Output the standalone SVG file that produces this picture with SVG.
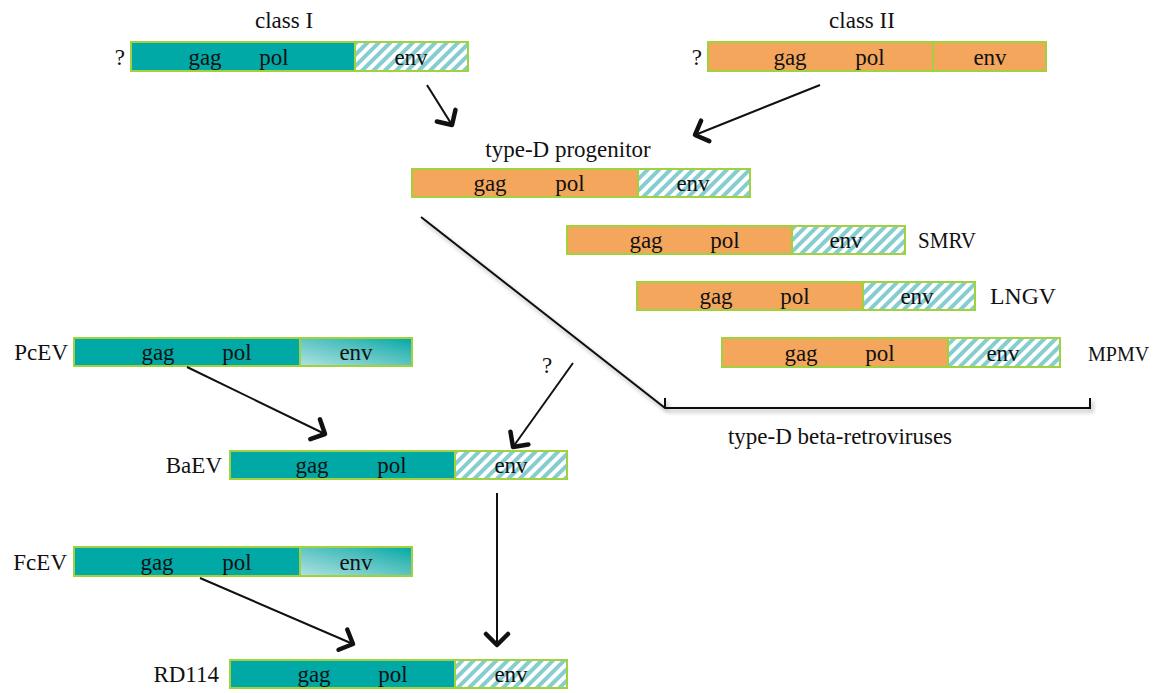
<svg xmlns="http://www.w3.org/2000/svg" width="1153" height="693" viewBox="0 0 1153 693">
<style>
text{font-family:"Liberation Serif","Times New Roman",serif;font-size:23px;fill:#111;}
.m{text-anchor:middle;}
.e{text-anchor:end;}
.bd{stroke:#9fd23c;stroke-width:2;}
.teal{fill:#00a8a6;}
.org{fill:#f3a65c;}
.hat{fill:url(#hatch);}
.grd{fill:url(#grad);}
.ln{stroke:#111;stroke-width:2;fill:none;}
</style>
<defs>
<pattern id="hatch" patternUnits="userSpaceOnUse" width="8" height="8" patternTransform="rotate(45)">
<rect width="8" height="8" fill="#ffffff"/>
<rect width="4" height="8" fill="#86cdd2"/>
</pattern>
<linearGradient id="grad" x1="0" y1="1" x2="1" y2="0">
<stop offset="0" stop-color="#b0e2e2"/>
<stop offset="0.7" stop-color="#3dbab8"/>
<stop offset="1" stop-color="#00a8a6"/>
</linearGradient>
<marker id="ah" markerUnits="userSpaceOnUse" markerWidth="30" markerHeight="30" refX="15" refY="15" orient="auto" viewBox="0 0 30 30">
<path d="M4,4 L15,15 L4,26" fill="none" stroke="#111" stroke-width="4.5" stroke-linejoin="round" stroke-linecap="round"/>
</marker>
<filter id="sh" x="-5%" y="-50%" width="110%" height="300%">
<feGaussianBlur in="SourceAlpha" stdDeviation="2"/>
<feOffset dx="2" dy="3"/>
<feComponentTransfer><feFuncA type="linear" slope="0.35"/></feComponentTransfer>
<feMerge><feMergeNode/><feMergeNode in="SourceGraphic"/></feMerge>
</filter>
</defs>
<rect width="1153" height="693" fill="#ffffff"/>

<g id="classI">
<text class="m" x="284" y="28">class I</text>
<text class="e" x="125" y="65">?</text>
<rect class="teal" x="131" y="42" width="224" height="29"/>
<rect class="hat" x="355" y="42" width="113" height="29"/>
<rect x="131" y="42" width="337" height="29" fill="none" class="bd"/>
<line x1="355" y1="42" x2="355" y2="71" class="bd"/>
<text class="m" x="205" y="65">gag</text>
<text class="m" x="274" y="65">pol</text>
<text class="m" x="411" y="65">env</text>
</g>

<g id="classII">
<text class="m" x="862" y="28">class II</text>
<text class="e" x="702" y="65">?</text>
<rect class="org" x="708" y="42" width="338" height="29"/>
<rect x="708" y="42" width="338" height="29" fill="none" class="bd"/>
<line x1="933" y1="42" x2="933" y2="71" class="bd"/>
<text class="m" x="790" y="65">gag</text>
<text class="m" x="870" y="65">pol</text>
<text class="m" x="990" y="65">env</text>
</g>

<g id="progenitor">
<text class="m" x="568" y="157">type-D progenitor</text>
<rect class="org" x="412" y="169" width="226" height="28"/>
<rect class="hat" x="638" y="169" width="112" height="28"/>
<rect x="412" y="169" width="338" height="28" fill="none" class="bd"/>
<line x1="638" y1="169" x2="638" y2="197" class="bd"/>
<text class="m" x="490" y="191">gag</text>
<text class="m" x="570" y="191">pol</text>
<text class="m" x="693" y="191">env</text>
</g>

<g id="SMRV">
<rect class="org" x="567" y="226" width="225" height="28"/>
<rect class="hat" x="792" y="226" width="113" height="28"/>
<rect x="567" y="226" width="338" height="28" fill="none" class="bd"/>
<line x1="792" y1="226" x2="792" y2="254" class="bd"/>
<text class="m" x="646" y="248">gag</text>
<text class="m" x="725" y="248">pol</text>
<text class="m" x="846" y="248">env</text>
<text x="918" y="248" textLength="58" lengthAdjust="spacingAndGlyphs">SMRV</text>
</g>

<g id="LNGV">
<rect class="org" x="637" y="282" width="226" height="28"/>
<rect class="hat" x="863" y="282" width="112" height="28"/>
<rect x="637" y="282" width="338" height="28" fill="none" class="bd"/>
<line x1="863" y1="282" x2="863" y2="310" class="bd"/>
<text class="m" x="716" y="304">gag</text>
<text class="m" x="795" y="304">pol</text>
<text class="m" x="917" y="304">env</text>
<text x="990" y="304" textLength="66" lengthAdjust="spacingAndGlyphs">LNGV</text>
</g>

<g id="MPMV">
<rect class="org" x="722" y="338" width="226" height="29"/>
<rect class="hat" x="948" y="338" width="112" height="29"/>
<rect x="722" y="338" width="338" height="29" fill="none" class="bd"/>
<line x1="948" y1="338" x2="948" y2="367" class="bd"/>
<text class="m" x="801" y="361">gag</text>
<text class="m" x="880" y="361">pol</text>
<text class="m" x="1003" y="361">env</text>
<text x="1088" y="361" style="font-size:20px">MPMV</text>
</g>

<g id="PcEV">
<text class="e" x="68" y="360">PcEV</text>
<rect class="teal" x="74" y="338" width="226" height="28"/>
<rect class="grd" x="300" y="338" width="112" height="28"/>
<rect x="74" y="338" width="338" height="28" fill="none" class="bd"/>
<line x1="300" y1="338" x2="300" y2="366" class="bd"/>
<text class="m" x="158" y="360">gag</text>
<text class="m" x="237" y="360">pol</text>
<text class="m" x="356" y="360">env</text>
</g>

<g id="BaEV">
<text class="e" x="222" y="473">BaEV</text>
<rect class="teal" x="230" y="451" width="225" height="28"/>
<rect class="hat" x="455" y="451" width="112" height="28"/>
<rect x="230" y="451" width="337" height="28" fill="none" class="bd"/>
<line x1="455" y1="451" x2="455" y2="479" class="bd"/>
<text class="m" x="312" y="473">gag</text>
<text class="m" x="392" y="473">pol</text>
<text class="m" x="511" y="473">env</text>
</g>

<g id="FcEV">
<text class="e" x="67" y="570">FcEV</text>
<rect class="teal" x="74" y="547" width="226" height="29"/>
<rect class="grd" x="300" y="547" width="112" height="29"/>
<rect x="74" y="547" width="338" height="29" fill="none" class="bd"/>
<line x1="300" y1="547" x2="300" y2="576" class="bd"/>
<text class="m" x="157" y="570">gag</text>
<text class="m" x="237" y="570">pol</text>
<text class="m" x="356" y="570">env</text>
</g>

<g id="RD114">
<text class="e" x="219" y="682">RD114</text>
<rect class="teal" x="230" y="660" width="225" height="28"/>
<rect class="hat" x="455" y="660" width="112" height="28"/>
<rect x="230" y="660" width="337" height="28" fill="none" class="bd"/>
<line x1="455" y1="660" x2="455" y2="688" class="bd"/>
<text class="m" x="314" y="682">gag</text>
<text class="m" x="393" y="682">pol</text>
<text class="m" x="511" y="682">env</text>
</g>

<g id="bracket">
<g filter="url(#sh)">
<path d="M421,217 L665,408 L1090,408 L1090,398" class="ln" stroke-width="1.6"/>
<line x1="665" y1="398" x2="665" y2="408" class="ln" stroke-width="1.6"/>
</g>
<text class="m" x="840" y="444">type-D beta-retroviruses</text>
</g>

<g id="connectors">
<line x1="427" y1="85" x2="452" y2="125" class="ln" stroke-width="2.5" marker-end="url(#ah)"/>
<line x1="820" y1="85" x2="695" y2="135" class="ln" stroke-width="2.5" marker-end="url(#ah)"/>
<line x1="187" y1="367" x2="325" y2="434" class="ln" stroke-width="2.5" marker-end="url(#ah)"/>
<text class="m" x="547" y="373">?</text>
<line x1="573" y1="363" x2="513" y2="447" class="ln" stroke-width="2.5" marker-end="url(#ah)"/>
<line x1="497" y1="493" x2="497" y2="645" class="ln" stroke-width="2.5" marker-end="url(#ah)"/>
<line x1="200" y1="578" x2="353" y2="644" class="ln" stroke-width="2.5" marker-end="url(#ah)"/>
</g>
</svg>
